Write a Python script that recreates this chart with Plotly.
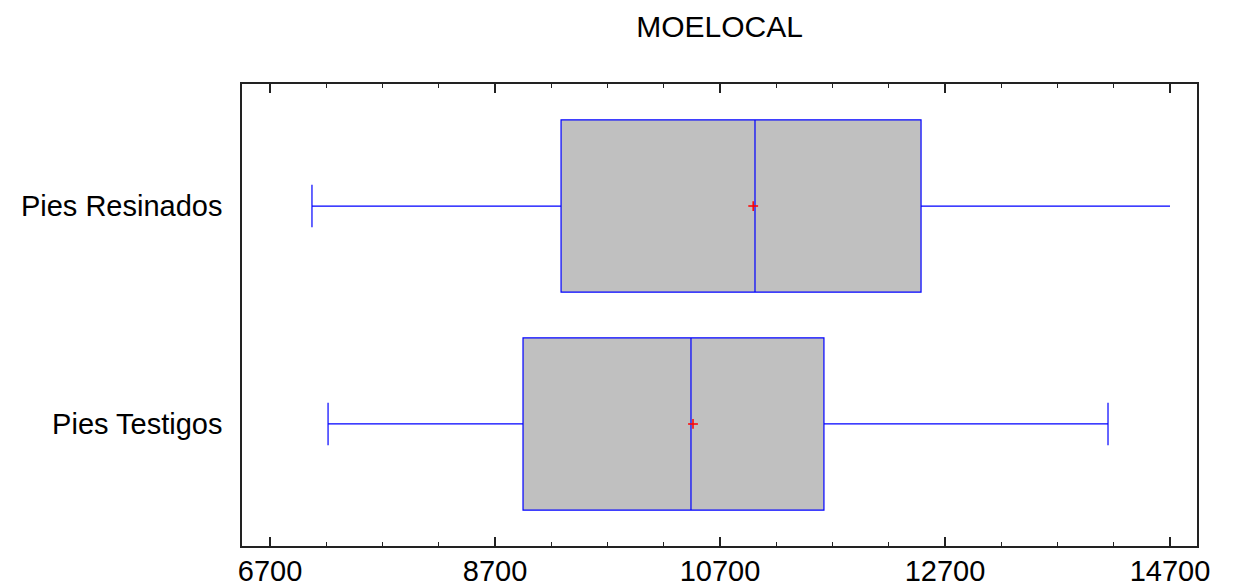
import plotly.graph_objects as go

# ---- data ----
groups = ["Pies Resinados", "Pies Testigos"]
group_pos = [1, 0]
lower_whisker = [7073, 7216]
q1_vals = [9287, 8949]
median_vals = [11011, 10442]
q3_vals = [12487, 11624]
upper_whisker = [14700, 14149]
mean_vals = [10995, 10460]
upper_cap_shown = [False, True]

x_ticks = [6700, 8700, 10700, 12700, 14700]

FONT = "Liberation Sans, Arial, sans-serif"
BLUE = "#0000FF"
BOX_W = 0.79
CAP_H = 0.195

fig = go.Figure()

for i, g in enumerate(groups):
    fig.add_trace(go.Box(
        y=[group_pos[i]], q1=[q1_vals[i]], median=[median_vals[i]], q3=[q3_vals[i]],
        lowerfence=[lower_whisker[i]], upperfence=[upper_whisker[i]],
        orientation="h", width=BOX_W, whiskerwidth=0,
        fillcolor="#C0C0C0", line=dict(color=BLUE, width=1.2),
        boxpoints=False, showlegend=False, hoverinfo="skip", name=g,
    ))

# whisker caps
cx, cy = [], []
for i in range(len(groups)):
    ends = [lower_whisker[i]] + ([upper_whisker[i]] if upper_cap_shown[i] else [])
    for v in ends:
        cx += [v, v, None]
        cy += [group_pos[i] - CAP_H / 2, group_pos[i] + CAP_H / 2, None]
fig.add_trace(go.Scatter(x=cx, y=cy, mode="lines", line=dict(color=BLUE, width=1.2),
                         showlegend=False, hoverinfo="skip"))

# means
fig.add_trace(go.Scatter(x=mean_vals, y=group_pos, mode="markers",
                         marker=dict(symbol="cross-thin", size=7,
                                     line=dict(color="#FF0000", width=1.5)),
                         showlegend=False, hoverinfo="skip"))

fig.update_layout(
    width=1237, height=588,
    margin=dict(l=242, r=40, t=84, b=42),
    paper_bgcolor="white", plot_bgcolor="white",
    font=dict(family=FONT, size=29, color="black"),
    title=dict(text="MOELOCAL", x=0.5, xanchor="center", xref="paper",
               y=0.955, yanchor="middle", font=dict(family=FONT, size=30, color="black")),
)

fig.update_xaxes(
    range=[6451, 14940], tickvals=x_ticks, ticktext=[str(t) for t in x_ticks],
    ticks="inside", ticklen=9, tickwidth=1.5, tickcolor="#222",
    minor=dict(dtick=500, tick0=6700, ticks="inside", ticklen=4, tickwidth=1, tickcolor="#222"),
    showline=True, linecolor="#222", linewidth=1.5, mirror="ticks",
    showgrid=False, zeroline=False, automargin=False,
    tickfont=dict(family=FONT, size=29, color="black"), ticklabelstandoff=-2,
)
fig.update_yaxes(
    range=[-0.56, 1.56], tickvals=group_pos, ticktext=groups,
    ticks="", showline=True, linecolor="#222", linewidth=1.5, mirror=True,
    showgrid=False, zeroline=False, automargin=False,
    tickfont=dict(family=FONT, size=29, color="black"), ticklabelstandoff=12,
)

fig.write_html("out.html", config={"displayModeBar": False},
               post_script="document.body.style.margin='0';document.body.style.overflow='hidden';")
